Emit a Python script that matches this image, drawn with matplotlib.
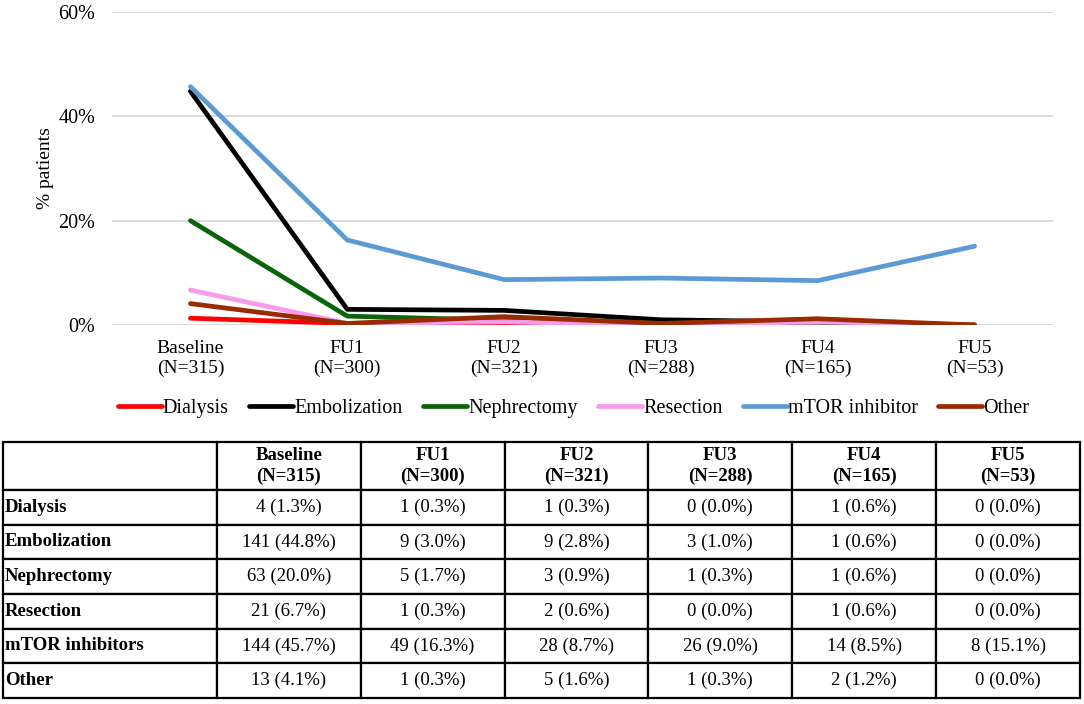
import matplotlib.pyplot as plt
import numpy as np
from matplotlib.ticker import PercentFormatter

plt.rcParams['font.family'] = ['Liberation Serif', 'DejaVu Serif']

timepoints = ['Baseline', 'FU1', 'FU2', 'FU3', 'FU4', 'FU5']
n_patients = [315, 300, 321, 288, 165, 53]

treatments = ['Dialysis', 'Embolization', 'Nephrectomy', 'Resection', 'mTOR inhibitors', 'Other']
legend_names = ['Dialysis', 'Embolization', 'Nephrectomy', 'Resection', 'mTOR inhibitor', 'Other']

dialysis_n = [4, 1, 1, 0, 1, 0]
dialysis_pct = [1.3, 0.3, 0.3, 0.0, 0.6, 0.0]
emboli_n = [141, 9, 9, 3, 1, 0]
emboli_pct = [44.8, 3.0, 2.8, 1.0, 0.6, 0.0]
nephr_n = [63, 5, 3, 1, 1, 0]
nephr_pct = [20.0, 1.7, 0.9, 0.3, 0.6, 0.0]
resect_n = [21, 1, 2, 0, 1, 0]
resect_pct = [6.7, 0.3, 0.6, 0.0, 0.6, 0.0]
mtor_n = [144, 49, 28, 26, 14, 8]
mtor_pct = [45.7, 16.3, 8.7, 9.0, 8.5, 15.1]
other_n = [13, 1, 5, 1, 2, 0]
other_pct = [4.1, 0.3, 1.6, 0.3, 1.2, 0.0]

all_n = [dialysis_n, emboli_n, nephr_n, resect_n, mtor_n, other_n]
all_pct = [dialysis_pct, emboli_pct, nephr_pct, resect_pct, mtor_pct, other_pct]
colors = ['#FF0000', '#000000', '#0A640A', '#F79BEA', '#5B9BD5', '#9A2B00']

fig = plt.figure(figsize=(10.84, 7.04), dpi=100)

# Line chart
ax = fig.add_axes([112/1084, 1-325/704, (1053-112)/1084, (325-12)/704])
x = np.arange(len(timepoints))
for pct, col, name in zip(all_pct, colors, legend_names):
    ax.plot(x, np.array(pct)/100, color=col, lw=3.4, label=name, solid_capstyle='round')

ax.set_xlim(-0.5, len(timepoints)-0.5)
ax.set_ylim(0, 0.6)
ax.set_yticks([0, 0.2, 0.4, 0.6])
ax.yaxis.set_major_formatter(PercentFormatter(1.0, decimals=0))
ax.set_xticks(x)
ax.set_xticklabels([f'{t}\n(N={n})' for t, n in zip(timepoints, n_patients)], linespacing=1.15)
ax.tick_params(axis='both', length=0, labelsize=14)
ax.tick_params(axis='x', pad=11)
ax.tick_params(axis='y', labelsize=14.5, pad=12)
for s in ax.spines.values():
    s.set_visible(False)
ax.grid(axis='y', color='#D9D9D9', lw=1.3)
ax.set_axisbelow(True)
ax.set_ylabel('% patients', fontsize=14, labelpad=3)

fig.legend(loc='center', bbox_to_anchor=(0.529, 1-408/704), ncol=6, frameon=False,
           fontsize=14.5, handlelength=2.2, handletextpad=0.05, columnspacing=1.0)

# Table
tax = fig.add_axes([3/1084, 1-698/704, (1080-3)/1084, (698-442)/704])
tax.axis('off')
header = [''] + [f'{t}\n(N={n})' for t, n in zip(timepoints, n_patients)]
rows = []
for name, cnt, pct in zip(treatments, all_n, all_pct):
    rows.append([name] + [f'{c} ({p:.1f}%)' for c, p in zip(cnt, pct)])
cell_text = [header] + rows
col_w = [214] + [144]*6
tbl = tax.table(cellText=cell_text, colWidths=[w/sum(col_w) for w in col_w],
                bbox=[0, 0, 1, 1], cellLoc='center')
tbl.auto_set_font_size(False)
tbl.set_fontsize(13.5)
for (r, c), cell in tbl.get_celld().items():
    cell.set_linewidth(1.6)
    cell.set_edgecolor('black')
    cell.set_height(48 if r == 0 else 34.7)
    if r == 0:
        cell.get_text().set_fontweight('bold')
        cell.get_text().set_linespacing(1.35)
    if c == 0:
        cell.get_text().set_fontweight('bold')
        cell.get_text().set_ha('left')
        cell.PAD = 0.01

fig.savefig('out.png', dpi=100)
